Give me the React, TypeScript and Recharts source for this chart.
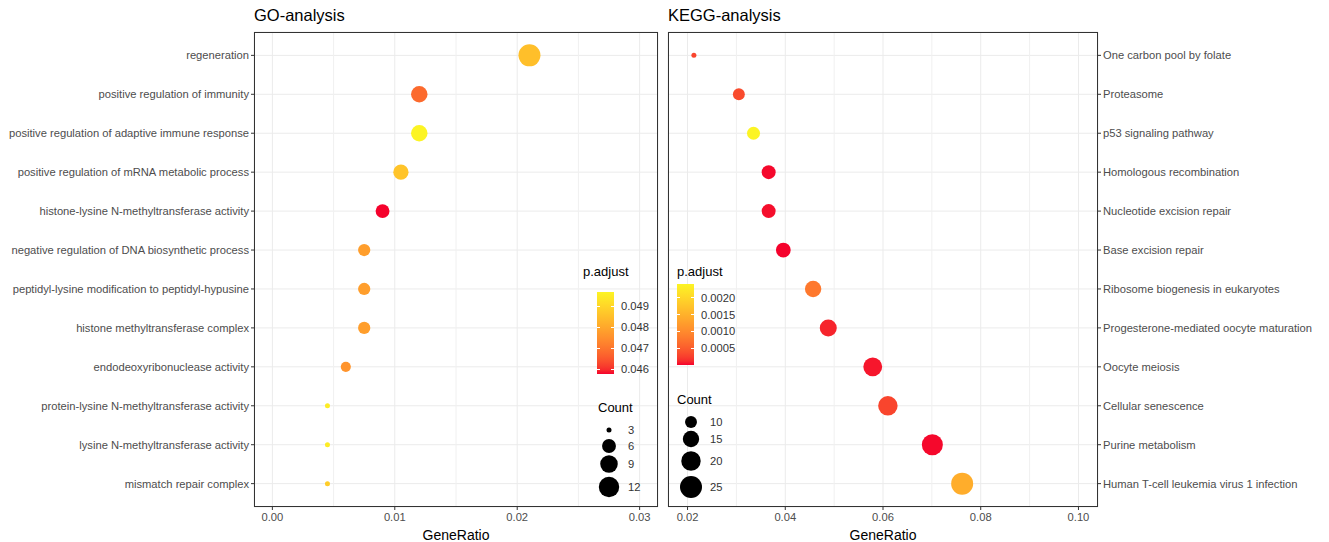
import React from "react";
import { ScatterChart, Scatter, XAxis, YAxis, CartesianGrid, ReferenceLine } from "recharts";

// ---------- data ----------
const goTitle = "GO-analysis";
const goTerms = [
  "regeneration",
  "positive regulation of immunity",
  "positive regulation of adaptive immune response",
  "positive regulation of mRNA metabolic process",
  "histone-lysine N-methyltransferase activity",
  "negative regulation of DNA biosynthetic process",
  "peptidyl-lysine modification to peptidyl-hypusine",
  "histone methyltransferase complex",
  "endodeoxyribonuclease activity",
  "protein-lysine N-methyltransferase activity",
  "lysine N-methyltransferase activity",
  "mismatch repair complex",
];
const goRatio = [0.021, 0.012, 0.012, 0.0105, 0.009, 0.0075, 0.0075, 0.0075, 0.006, 0.0045, 0.0045, 0.0045];
const goCount = [14, 8, 8, 7, 6, 5, 5, 5, 4, 3, 3, 3];
const goPadj = [0.0485, 0.0468, 0.04967, 0.0486, 0.04577, 0.0478, 0.0478, 0.0478, 0.0476, 0.0495, 0.0495, 0.0488];
const goXTicks = [0, 0.01, 0.02, 0.03];
const goXMinor = [0.005, 0.015, 0.025];
const goXDomain = [-0.0015, 0.0315];
const goPadjTicks = [0.046, 0.047, 0.048, 0.049];
const goCountTicks = [3, 6, 9, 12];

const keggTitle = "KEGG-analysis";
const keggTerms = [
  "One carbon pool by folate",
  "Proteasome",
  "p53 signaling pathway",
  "Homologous recombination",
  "Nucleotide excision repair",
  "Base excision repair",
  "Ribosome biogenesis in eukaryotes",
  "Progesterone-mediated oocyte maturation",
  "Oocyte meiosis",
  "Cellular senescence",
  "Purine metabolism",
  "Human T-cell leukemia virus 1 infection",
];
const keggRatio = [0.0213, 0.0305, 0.0335, 0.0366, 0.0366, 0.0396, 0.0457, 0.0488, 0.0579, 0.061, 0.0701, 0.0762];
const keggCount = [7, 10, 11, 12, 12, 13, 15, 16, 19, 20, 23, 25];
const keggPadj = [0.0003, 0.00035, 0.0024, 0.00002, 0.00003, 0.00001, 0.0008, 0.0001, 0.00005, 0.0003, 0.00002, 0.00145];
const keggXTicks = [0.02, 0.04, 0.06, 0.08, 0.1];
const keggXMinor = [0.03, 0.05, 0.07, 0.09];
const keggXDomain = [0.016, 0.104];
const keggPadjTicks = [0.0005, 0.001, 0.0015, 0.002];
const keggCountTicks = [10, 15, 20, 25];

// ---------- colour (Lab interpolation like ggplot) ----------
const LOW = "#F5022C";
const HIGH = "#FCF424";
function hexToRgb(h: string) {
  const n = parseInt(h.slice(1), 16);
  return [(n >> 16) & 255, (n >> 8) & 255, n & 255];
}
function toLin(c: number) {
  c /= 255;
  return c <= 0.04045 ? c / 12.92 : Math.pow((c + 0.055) / 1.055, 2.4);
}
function fromLin(c: number) {
  const v = c <= 0.0031308 ? 12.92 * c : 1.055 * Math.pow(c, 1 / 2.4) - 0.055;
  return Math.max(0, Math.min(255, Math.round(v * 255)));
}
function rgbToLab(rgb: number[]) {
  const [r, g, b] = rgb.map(toLin);
  const X = (0.4124 * r + 0.3576 * g + 0.1805 * b) / 0.95047;
  const Y = 0.2126 * r + 0.7152 * g + 0.0722 * b;
  const Z = (0.0193 * r + 0.1192 * g + 0.9505 * b) / 1.08883;
  const f = (t: number) => (t > 0.008856 ? Math.cbrt(t) : 7.787 * t + 16 / 116);
  const fx = f(X), fy = f(Y), fz = f(Z);
  return [116 * fy - 16, 500 * (fx - fy), 200 * (fy - fz)];
}
function labToRgb(lab: number[]) {
  const [L, a, b] = lab;
  const fy = (L + 16) / 116;
  const fx = fy + a / 500;
  const fz = fy - b / 200;
  const inv = (t: number) => (t * t * t > 0.008856 ? t * t * t : (t - 16 / 116) / 7.787);
  const X = inv(fx) * 0.95047, Y = inv(fy), Z = inv(fz) * 1.08883;
  const r = 3.2406 * X - 1.5372 * Y - 0.4986 * Z;
  const g = -0.9689 * X + 1.8758 * Y + 0.0415 * Z;
  const bb = 0.0557 * X - 0.204 * Y + 1.057 * Z;
  return `rgb(${fromLin(r)},${fromLin(g)},${fromLin(bb)})`;
}
const labLow = rgbToLab(hexToRgb(LOW));
const labHigh = rgbToLab(hexToRgb(HIGH));
function colorAt(t: number) {
  t = Math.max(0, Math.min(1, t));
  return labToRgb(labLow.map((v, i) => v + (labHigh[i] - v) * t));
}

const FONT = "'Liberation Sans', Arial, Helvetica, sans-serif";
const TICK_FS = 11.2;

type PanelCfg = {
  title: string;
  terms: string[];
  ratio: number[];
  count: number[];
  padj: number[];
  xTicks: number[];
  xMinor: number[];
  xDomain: number[];
  padjTicks: number[];
  countTicks: number[];
  side: "left" | "right";
  chartLeft: number;
  chartWidth: number;
  yAxisWidth: number;
  marginLeft: number;
  marginRight: number;
  legend: {
    titleX: number; titleY: number;
    barX: number; barY: number; barH: number;
    labelX: number;
    countTitleX: number; countTitleY: number;
    circleX: number; circleYs: number[]; countLabelX: number;
  };
};

const TOP = 32;
const PLOT_H = 475;
const H = 542;

function Panel({ cfg }: { cfg: PanelCfg }) {
  const n = cfg.terms.length;
  const cMin = Math.min(...cfg.count), cMax = Math.max(...cfg.count);
  const pMin = Math.min(...cfg.padj), pMax = Math.max(...cfg.padj);
  const radius = (c: number) => 2.5 + 8.5 * Math.sqrt(Math.max(0, (c - cMin) / (cMax - cMin)));
  const col = (p: number) => colorAt((p - pMin) / (pMax - pMin));
  const data = cfg.terms.map((t, i) => ({ term: t, y: n - i, x: cfg.ratio[i], count: cfg.count[i], padj: cfg.padj[i] }));
  const yTicks = data.map((d) => d.y).reverse();
  const labelOf = (v: number) => cfg.terms[n - v] ?? "";
  const plotLeft = cfg.side === "left" ? cfg.marginLeft + cfg.yAxisWidth : cfg.marginLeft;
  const plotW = cfg.chartWidth - cfg.marginLeft - cfg.marginRight - cfg.yAxisWidth;
  const L = cfg.legend;
  const stops = Array.from({ length: 21 }, (_, i) => `${colorAt(i / 20)} ${(i / 20) * 100}%`).join(", ");
  const barPos = (v: number) => L.barY + ((pMax - v) / (pMax - pMin)) * L.barH;

  const yTick = (p: any) => (
    <text
      x={p.x}
      y={p.y}
      dy="0.355em"
      textAnchor={cfg.side === "left" ? "end" : "start"}
      fill="#4D4D4D"
      fontSize={TICK_FS}
      fontFamily={FONT}
      style={{ whiteSpace: "pre" }}
    >
      {labelOf(p.payload.value)}
    </text>
  );

  return (
    <div style={{ position: "absolute", left: cfg.chartLeft, top: 0, width: cfg.chartWidth, height: H }}>
      <ScatterChart
        width={cfg.chartWidth}
        height={H}
        margin={{ top: TOP, right: cfg.marginRight, bottom: 0, left: cfg.marginLeft }}
      >
        <CartesianGrid stroke="#EBEBEB" strokeWidth={1} />
        <XAxis
          type="number"
          dataKey="x"
          domain={cfg.xDomain}
          ticks={cfg.xTicks}
          allowDataOverflow
          interval={0}
          height={H - TOP - PLOT_H}
          axisLine={false}
          tickLine={{ stroke: "#333333" }}
          tickSize={3}
          tickMargin={3}
          tick={{ fill: "#4D4D4D", fontSize: TICK_FS, fontFamily: FONT }}
          tickFormatter={(v: number) => v.toFixed(2)}
          label={{ value: "GeneRatio", position: "insideBottom", offset: 2, style: { fill: "#000", fontSize: 14, fontFamily: FONT } }}
        />
        <YAxis
          type="number"
          dataKey="y"
          orientation={cfg.side}
          domain={[0.4, n + 0.6]}
          ticks={yTicks}
          interval={0}
          allowDataOverflow
          width={cfg.yAxisWidth}
          axisLine={false}
          tickLine={{ stroke: "#333333" }}
          tickSize={3}
          tickMargin={2}
          tick={yTick}
        />
        {cfg.xMinor.map((m) => (
          <ReferenceLine key={m} x={m} stroke="#F0F0F0" strokeWidth={1} />
        ))}
        <Scatter
          data={data}
          isAnimationActive={false}
          shape={(p: any) => (
            <circle cx={p.cx} cy={p.cy} r={radius(p.payload.count)} fill={col(p.payload.padj)} />
          )}
        />
      </ScatterChart>
      {/* panel border */}
      <div
        style={{
          position: "absolute",
          left: plotLeft,
          top: TOP,
          width: plotW,
          height: PLOT_H,
          border: "1px solid #333333",
          boxSizing: "border-box",
          pointerEvents: "none",
        }}
      />
      {/* title */}
      <div style={{ position: "absolute", left: plotLeft, top: 6, fontSize: 16.5, fontFamily: FONT, color: "#000", whiteSpace: "nowrap" }}>
        {cfg.title}
      </div>
      {/* colour legend */}
      <div style={{ position: "absolute", left: L.titleX - cfg.chartLeft, top: L.titleY - 8, fontSize: 13, lineHeight: "16px", fontFamily: FONT, color: "#000" }}>
        p.adjust
      </div>
      <div
        style={{
          position: "absolute",
          left: L.barX - cfg.chartLeft,
          top: L.barY,
          width: 17,
          height: L.barH,
          background: `linear-gradient(to top, ${stops})`,
        }}
      />
      {cfg.padjTicks.map((v) => (
        <React.Fragment key={v}>
          <div style={{ position: "absolute", left: L.barX - cfg.chartLeft, top: barPos(v) - 0.5, width: 3, height: 1, background: "#fff" }} />
          <div style={{ position: "absolute", left: L.barX - cfg.chartLeft + 14, top: barPos(v) - 0.5, width: 3, height: 1, background: "#fff" }} />
          <div style={{ position: "absolute", left: L.labelX - cfg.chartLeft, top: barPos(v) - 7, fontSize: TICK_FS, lineHeight: "14px", fontFamily: FONT, color: "#333" }}>
            {cfg.side === "left" ? v.toFixed(3) : v.toFixed(4)}
          </div>
        </React.Fragment>
      ))}
      {/* size legend */}
      <div style={{ position: "absolute", left: L.countTitleX - cfg.chartLeft, top: L.countTitleY - 8, fontSize: 13, lineHeight: "16px", fontFamily: FONT, color: "#000" }}>
        Count
      </div>
      <svg style={{ position: "absolute", left: 0, top: 0, pointerEvents: "none" }} width={cfg.chartWidth} height={H}>
        {cfg.countTicks.map((c, i) => (
          <circle key={c} cx={L.circleX - cfg.chartLeft} cy={L.circleYs[i]} r={radius(c)} fill="#000" />
        ))}
      </svg>
      {cfg.countTicks.map((c, i) => (
        <div key={c} style={{ position: "absolute", left: L.countLabelX - cfg.chartLeft, top: L.circleYs[i] - 7, fontSize: TICK_FS, lineHeight: "14px", fontFamily: FONT, color: "#333" }}>
          {c}
        </div>
      ))}
    </div>
  );
}

const goCfg: PanelCfg = {
  title: goTitle,
  terms: goTerms,
  ratio: goRatio,
  count: goCount,
  padj: goPadj,
  xTicks: goXTicks,
  xMinor: goXMinor,
  xDomain: goXDomain,
  padjTicks: goPadjTicks,
  countTicks: goCountTicks,
  side: "left",
  chartLeft: 0,
  chartWidth: 670,
  yAxisWidth: 246,
  marginLeft: 8,
  marginRight: 12,
  legend: {
    titleX: 583, titleY: 272,
    barX: 597, barY: 292, barH: 82,
    labelX: 621,
    countTitleX: 598, countTitleY: 408,
    circleX: 609, circleYs: [430, 446, 464, 487], countLabelX: 628,
  },
};

const keggCfg: PanelCfg = {
  title: keggTitle,
  terms: keggTerms,
  ratio: keggRatio,
  count: keggCount,
  padj: keggPadj,
  xTicks: keggXTicks,
  xMinor: keggXMinor,
  xDomain: keggXDomain,
  padjTicks: keggPadjTicks,
  countTicks: keggCountTicks,
  side: "right",
  chartLeft: 660,
  chartWidth: 669,
  yAxisWidth: 231,
  marginLeft: 8,
  marginRight: 0,
  legend: {
    titleX: 677, titleY: 272,
    barX: 677, barY: 284, barH: 81,
    labelX: 701,
    countTitleX: 677, countTitleY: 400,
    circleX: 691, circleYs: [422, 439, 461, 487], countLabelX: 710,
  },
};

export default function App() {
  return (
    <div style={{ position: "absolute", left: 0, top: 0, width: 1329, height: H, background: "#fff", overflow: "hidden" }}>
      <Panel cfg={goCfg} />
      <Panel cfg={keggCfg} />
    </div>
  );
}
